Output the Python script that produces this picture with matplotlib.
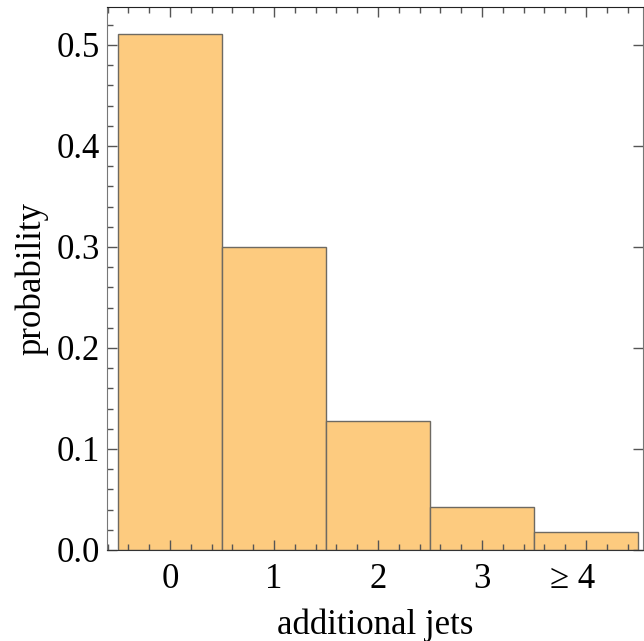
import numpy as np
import matplotlib
matplotlib.use('Agg')
import matplotlib.pyplot as plt
from matplotlib.ticker import MultipleLocator

plt.rcParams['font.family'] = ['Liberation Serif', 'DejaVu Serif']

#- datos
categorias = ['0', '1', '2', '3', '\u2265 4   ']
probabilidad = [0.511, 0.300, 0.128, 0.043, 0.018]

fig = plt.figure(figsize=(6.44, 6.41), dpi=100)
ax = fig.add_axes([107/644, 1 - 550/641, 536/644, 543/641])

x = np.arange(len(categorias))
ax.bar(x, probabilidad, width=1.0, color='#fdcb7f', edgecolor='#6e6a62', linewidth=1.0)

ax.set_xlim(-0.606, 4.548)
ax.set_ylim(0, 0.5376)
ax.set_xticks(x)
ax.set_xticklabels(categorias)
ax.xaxis.set_minor_locator(MultipleLocator(0.2))
ax.set_yticks([0.0, 0.1, 0.2, 0.3, 0.4, 0.5])
ax.set_yticklabels(['0.0', '0.1', '0.2', '0.3', '0.4', '0.5'])
ax.yaxis.set_minor_locator(MultipleLocator(0.02))

ax.tick_params(which='both', direction='in', top=True, color='#555555', width=1.0, labelsize=25)
ax.tick_params(which='major', length=7, right=True)
ax.tick_params(which='minor', length=4)
ax.tick_params(axis='x', pad=9)
ax.tick_params(axis='y', pad=5)

for lado in ['left', 'right', 'bottom']:
    ax.spines[lado].set_color('#777777')
ax.spines['top'].set_color('#222222')
ax.spines['bottom'].set_color('#333333')

ax.set_xlabel('additional jets', fontsize=25, labelpad=9)
ax.set_ylabel('probability', fontsize=25, labelpad=6)

plt.savefig('out.png', dpi=100)
